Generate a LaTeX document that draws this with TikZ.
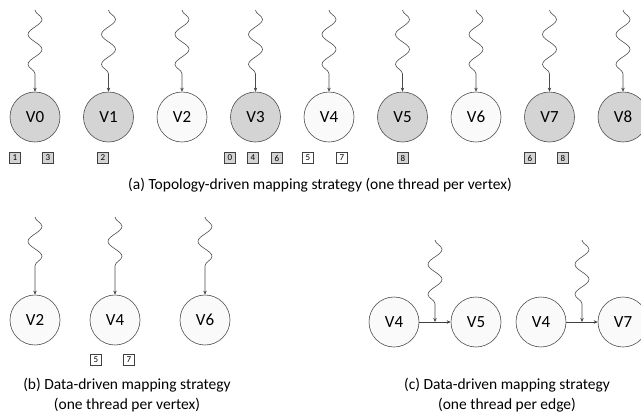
\documentclass[tikz,border=0pt]{standalone}
\usepackage{fontspec}
\setmainfont{Carlito}
\usetikzlibrary{decorations.pathmorphing,arrows.meta}

\begin{document}
\begin{tikzpicture}
  [x=1pt,y=-1pt,
   vtx/.style={circle,draw=black!70,line width=0.6pt,minimum size=50pt,inner sep=0pt,font=\fontsize{17}{17}\selectfont},
   busy/.style={vtx,fill=black!17},
   idle/.style={vtx,fill=black!2},
   slot/.style={draw=black!75,line width=0.5pt,minimum size=11pt,inner sep=0pt,font=\fontsize{9}{9}\selectfont},
   thread/.style={draw=black!70,line width=0.6pt,-{Stealth[length=4pt,width=3.5pt]},decorate,
     decoration={snake,amplitude=7pt,segment length=30pt,post length=15pt}},
   edge/.style={draw=black!75,line width=0.6pt,-{Stealth[length=4pt,width=3.5pt]}},
   captext/.style={font=\fontsize{15.5}{20}\selectfont,align=center}]
  \useasboundingbox (0,0) rectangle (641,413);

  % (a) one thread per vertex
  \foreach \i/\s in {0/busy,1/busy,2/idle,3/busy,4/idle,5/busy,6/idle,7/busy,8/busy}{
    \node[\s] (a\i) at (35+73.5*\i,117) {V\i};
    \coordinate (ta\i) at (35+73.5*\i,10);
    \draw[thread] (ta\i) -- (a\i);
  }
  \foreach \x/\n/\f [count=\k] in {15/1/black!17,48/3/black!17,103/2/black!17,
      230/0/black!17,253/4/black!17,277/6/black!17,308/5/white,342/7/white,
      403/8/black!17,530/6/black!17,563/8/black!17}
    \node[slot,fill=\f] (sa\k) at (\x,158) {\n};
  \node[captext] (capa) at (320,185) {(a) Topology-driven mapping strategy (one thread per vertex)};

  % (b) data-driven, per vertex
  \foreach \i/\x in {2/35,4/115,6/205}{
    \node[idle] (b\i) at (\x,320) {V\i};
    \coordinate (tb\i) at (\x,217);
    \draw[thread] (tb\i) -- (b\i);
  }
  \node[slot,fill=white] (sb1) at (96,360) {5};
  \node[slot,fill=white] (sb2) at (129,360) {7};
  \node[captext] (capb) at (127,395) {(b) Data-driven mapping strategy\\(one thread per vertex)};

  % (c) data-driven, per edge
  \node[idle] (c4) at (394,322) {V4};
  \node[idle] (c5) at (476,322) {V5};
  \node[idle] (d4) at (541,322) {V4};
  \node[idle] (d7) at (623,322) {V7};
  \coordinate (mc) at (435,322);
  \coordinate (md) at (582,322);
  \coordinate (tc) at (435,240);
  \coordinate (td) at (582,240);
  \foreach \from/\to in {c4/c5,d4/d7}
    \draw[edge] (\from) -- (\to);
  \foreach \from/\to in {tc/mc,td/md}
    \draw[thread] (\from) -- (\to);
  \node[captext] (capc) at (507,395) {(c) Data-driven mapping strategy\\(one thread per edge)};
\end{tikzpicture}
\end{document}
